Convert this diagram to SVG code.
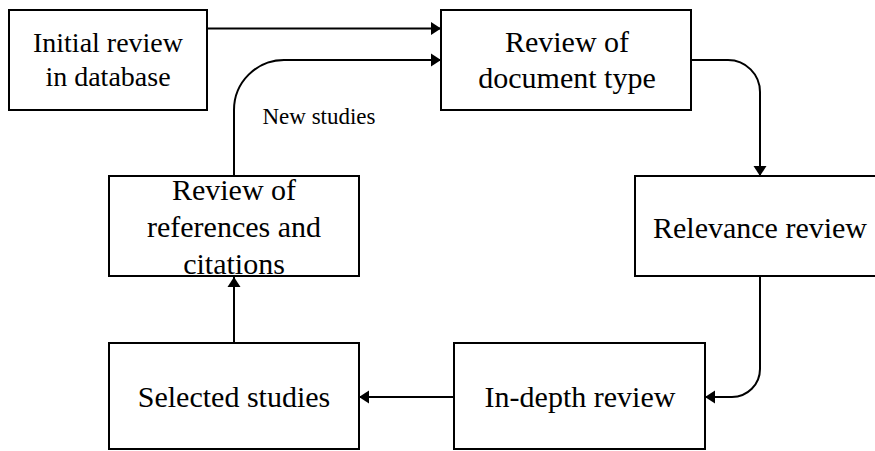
<svg xmlns="http://www.w3.org/2000/svg" width="875" height="451" viewBox="0 0 875 451">
  <style>
    .box { fill: #ffffff; stroke: #000000; stroke-width: 2; }
    .lbl { font-family: 'Liberation Serif', 'DejaVu Serif', serif; font-size: 30px; fill: #000000; text-anchor: middle; }
    .small { font-size: 23px; }
    .edge { fill: none; stroke: #000000; stroke-width: 2; marker-end: url(#head); }
  </style>
  <defs>
    <marker id="head" markerUnits="userSpaceOnUse" markerWidth="11" markerHeight="14" refX="10" refY="7" orient="auto">
      <path d="M0,0.5 L10,7 L0,13.5 z" fill="#000000"/>
    </marker>
  </defs>
  <rect width="875" height="451" fill="#ffffff"/>

  <g id="connectors">
    <path class="edge" d="M207,28.5 H441"/>
    <path class="edge" d="M234,176 V110 A50,50 0 0 1 284,60 H441"/>
    <path class="edge" d="M691,60 H728 A32,32 0 0 1 760,92 V176"/>
    <path class="edge" d="M760,277 V369 A28,28 0 0 1 732,397 H705"/>
    <path class="edge" d="M454,397 H359"/>
    <path class="edge" d="M234,343 V277"/>
    <text class="lbl small" x="319" y="124">New studies</text>
  </g>

  <g id="initial-review">
    <rect class="box" x="9" y="10" width="198" height="100"/>
    <text class="lbl" style="font-size:28px" x="108" y="52">Initial review</text>
    <text class="lbl" style="font-size:28px" x="108" y="86">in database</text>
  </g>

  <g id="document-type">
    <rect class="box" x="441" y="10" width="250" height="100"/>
    <text class="lbl" x="567" y="52">Review of</text>
    <text class="lbl" x="567" y="88">document type</text>
  </g>

  <g id="references-citations">
    <rect class="box" x="109" y="176" width="250" height="100"/>
    <text class="lbl" x="234" y="200">Review of</text>
    <text class="lbl" x="234" y="237">references and</text>
    <text class="lbl" x="234" y="274">citations</text>
  </g>

  <g id="relevance-review">
    <rect class="box" x="635" y="176" width="250" height="100"/>
    <text class="lbl" x="760" y="238">Relevance review</text>
  </g>

  <g id="selected-studies">
    <rect class="box" x="109" y="343" width="250" height="106"/>
    <text class="lbl" x="234" y="407">Selected studies</text>
  </g>

  <g id="in-depth-review">
    <rect class="box" x="454" y="343" width="251" height="106"/>
    <text class="lbl" x="580" y="407">In-depth review</text>
  </g>
</svg>
